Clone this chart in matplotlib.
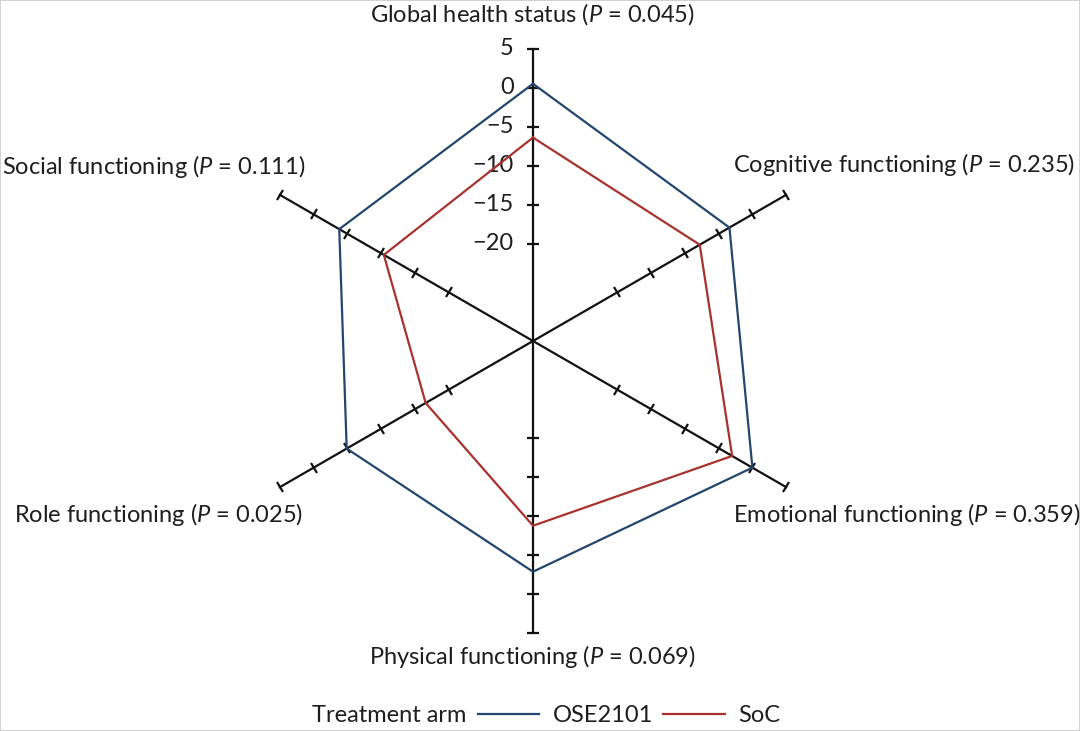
import numpy as np
import matplotlib
matplotlib.use("Agg")
import matplotlib.pyplot as plt
from matplotlib.markers import MarkerStyle
from matplotlib.transforms import Affine2D
from matplotlib.lines import Line2D
from matplotlib.patches import Rectangle

# ---------------- data ----------------
domains = ["Global health status", "Cognitive functioning", "Emotional functioning",
           "Physical functioning", "Role functioning", "Social functioning"]
p_values = ["0.045", "0.235", "0.359", "0.069", "0.025", "0.111"]
ose2101 = [0.5, -3.4, 0.0, -2.9, -4.9, -3.8]
soc = [-6.4, -7.8, -3.0, -8.8, -16.6, -10.4]
tick_values = [-20, -15, -10, -5, 0, 5]
tick_labels = ["\u221220", "\u221215", "\u221210", "\u22125", "0", "5"]
r_min, r_max = -32.5, 5

# ---------------- style ----------------
FONT = "Lato"
plt.rcParams["font.family"] = [FONT, "DejaVu Sans"]
plt.rcParams["mathtext.fontset"] = "custom"
plt.rcParams["mathtext.rm"] = FONT
plt.rcParams["mathtext.it"] = FONT + ":italic"
LAB_FS = 17
TICK_FS = 17
BLUE = "#22466e"
RED = "#a8322e"
TXT = "#1e1e1e"

W, H = 1080, 731
fig = plt.figure(figsize=(W / 100, H / 100), dpi=100)
cx, cy, R = 533, 341, 292.3
ax = fig.add_axes([(cx - R) / W, (H - cy - R) / H, 2 * R / W, 2 * R / H], projection="polar")
ax.set_theta_zero_location("N")
ax.set_theta_direction(-1)
ax.set_rlim(r_min, r_max)
ax.grid(False)
ax.set_xticks([])
ax.set_yticks([])
ax.spines["polar"].set_visible(False)
ax.patch.set_alpha(0)

n = len(domains)
thetas = np.deg2rad(np.arange(n) * 360 / n)

# axes + tick marks
for th in thetas:
    ax.plot([th, th], [r_min, r_max], color="#111111", lw=1.6, clip_on=False, zorder=2)
    phi = 90 - np.rad2deg(th)
    mk = MarkerStyle("|", transform=Affine2D().rotate_deg(phi))
    ax.plot([th] * len(tick_values), tick_values, linestyle="none", marker=mk,
            ms=9, mew=1.6, color="#111111", clip_on=False, zorder=2)

# tick labels on top axis
for v, lab in zip(tick_values, tick_labels):
    ax.annotate(lab, xy=(0, v), xytext=(-14, 0), textcoords="offset points",
                ha="right", va="center", fontsize=TICK_FS, color=TXT)

# series
th_closed = np.append(thetas, thetas[0])
ax.plot(th_closed, ose2101 + ose2101[:1], color=BLUE, lw=1.6, zorder=3, clip_on=False)
ax.plot(th_closed, soc + soc[:1], color=RED, lw=1.6, zorder=3, clip_on=False)

# category labels (pixel positions)
def lab(i):
    return domains[i] + " ($\\mathit{P}$ = " + p_values[i] + ")"

pos = [
    (532, 14, "center"),
    (733, 164, "left"),
    (733, 515, "left"),
    (532, 657, "center"),
    (303, 515, "right"),
    (305, 167, "right"),
]
for i, (x, y, ha) in enumerate(pos):
    fig.text(x / W, 1 - y / H, lab(i), ha=ha, va="center", fontsize=LAB_FS, color=TXT)

# legend
fig.text(312 / W, 1 - 716 / H, "Treatment arm", ha="left", va="center", fontsize=LAB_FS, color=TXT)
h1 = Line2D([], [], color=BLUE, lw=1.6)
h2 = Line2D([], [], color=RED, lw=1.6)
fig.legend([h1, h2], ["OSE2101", "SoC"], loc="center left",
           bbox_to_anchor=(478 / W, 1 - 716 / H), ncol=2, frameon=False,
           fontsize=LAB_FS, handlelength=2.6, handletextpad=0.55, columnspacing=0.45,
           borderpad=0, borderaxespad=0, labelcolor=TXT)

fig.patches.append(Rectangle((0, 0), 1, 1, transform=fig.transFigure, fill=False,
                             edgecolor="#c8c8c8", lw=1.2))

fig.savefig("out.png", dpi=100)
